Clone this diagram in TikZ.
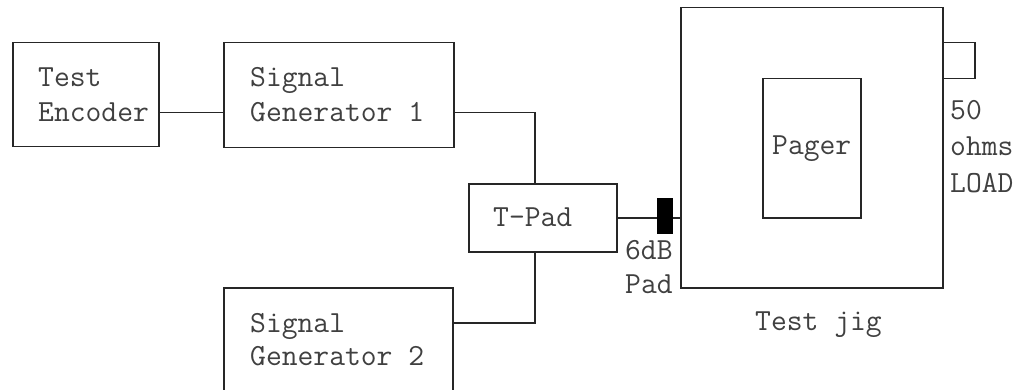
\documentclass[tikz,border=0pt]{standalone}
\begin{document}
\begin{tikzpicture}[x=1pt,y=-1pt,
  box/.style={draw=black!85, line width=1.5pt, inner sep=0pt, anchor=north west},
  txt/.style={inner sep=0pt, anchor=base west, text=black!75, font=\fontsize{30.7}{35}\ttfamily},
  wire/.style={draw=black!85, line width=1.5pt}]
\useasboundingbox (0,0) rectangle (1024,390);
\clip (0,0) rectangle (1024,390);
\fill[white] (0,0) rectangle (1024,390);
% boxes
\node[box, minimum width=146pt, minimum height=104pt] (enc) at (12,42) {};
\node[box, minimum width=230pt, minimum height=105pt] (sg1) at (223,42) {};
\node[box, minimum width=229pt, minimum height=113pt] (sg2) at (223,287) {};
\node[box, minimum width=148pt, minimum height=68pt] (tpad) at (468,183) {};
\node[box, minimum width=262pt, minimum height=280pt] (jig) at (680,7) {};
\node[box, minimum width=98pt, minimum height=139pt] (pager) at (762,78) {};
\node[box, minimum width=32pt, minimum height=36pt] (load) at (942,42) {};
% texts
\node[txt] (encA) at (38,87) {Test};
\node[txt] (encB) at (38,122) {Encoder};
\node[txt] (sg1A) at (250,87) {Signal};
\node[txt] (sg1B) at (250,122) {Generator 1};
\node[txt] (sg2A) at (250,332) {Signal};
\node[txt] (sg2B) at (250,365) {Generator 2};
\node[txt] (tpadT) at (493,226) {T-Pad};
\node[txt] (pagerT) at (772,155) {Pager};
\node[txt] (padA) at (625,259) {6dB};
\node[txt] (padB) at (625,293) {Pad};
\node[txt] (jigT) at (755,330) {Test jig};
\node[txt] (loadA) at (950,120) {50};
\node[txt] (loadB) at (950,156) {ohms};
\node[txt] (loadC) at (950,192) {LOAD};
% connectors
\draw[wire] ([yshift=-18pt]enc.east) -- ([yshift=-18pt]enc.east -| sg1.west);
\draw[wire] ([yshift=-17.5pt]sg1.east) -| ([xshift=-8pt]tpad.north);
\draw[wire] ([yshift=21.5pt]sg2.east) -| ([xshift=-8pt]tpad.south);
\draw[wire] (tpad.east) -- (tpad.east -| jig.west);
\node[fill=black, draw=black, inner sep=0pt, minimum width=15pt, minimum height=35pt] (pad) at (664.5,215.5) {};
\end{tikzpicture}
\end{document}
